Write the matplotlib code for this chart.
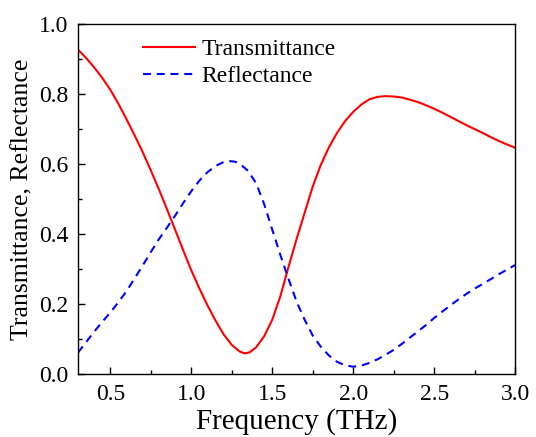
import numpy as np
import matplotlib
matplotlib.use("Agg")
import matplotlib.pyplot as plt
from matplotlib.ticker import MultipleLocator

# values
freq_t = [0.30, 0.35, 0.40, 0.45, 0.50, 0.55, 0.60, 0.65, 0.70, 0.75, 0.80, 0.85,
          0.90, 0.95, 1.00, 1.05, 1.10, 1.15, 1.20, 1.25, 1.30, 1.33, 1.36, 1.40,
          1.45, 1.50, 1.55, 1.60, 1.65, 1.70, 1.75, 1.80, 1.85, 1.90, 1.95, 2.00,
          2.05, 2.10, 2.15, 2.20, 2.25, 2.30, 2.35, 2.40, 2.45, 2.50, 2.55, 2.60,
          2.65, 2.70, 2.75, 2.80, 2.85, 2.90, 2.95, 3.00]
trans = [0.926, 0.902, 0.875, 0.845, 0.811, 0.771, 0.727, 0.681, 0.633, 0.581, 0.527, 0.470,
         0.412, 0.353, 0.296, 0.244, 0.196, 0.152, 0.113, 0.083, 0.064, 0.059, 0.062, 0.076,
         0.108, 0.155, 0.222, 0.305, 0.385, 0.460, 0.535, 0.597, 0.647, 0.688, 0.722, 0.748,
         0.769, 0.784, 0.791, 0.793, 0.792, 0.789, 0.783, 0.776, 0.767, 0.757, 0.746, 0.734,
         0.722, 0.710, 0.699, 0.688, 0.676, 0.665, 0.655, 0.646]

freq_r = [0.30, 0.35, 0.40, 0.45, 0.50, 0.55, 0.60, 0.65, 0.70, 0.75, 0.80, 0.85,
          0.90, 0.95, 1.00, 1.05, 1.10, 1.15, 1.20, 1.23, 1.27, 1.30, 1.35, 1.40,
          1.45, 1.50, 1.55, 1.60, 1.65, 1.70, 1.75, 1.80, 1.85, 1.90, 1.95, 2.00,
          2.05, 2.10, 2.15, 2.20, 2.25, 2.30, 2.35, 2.40, 2.45, 2.50, 2.55, 2.60,
          2.65, 2.70, 2.75, 2.80, 2.85, 2.90, 2.95, 3.00]
refl = [0.061, 0.091, 0.121, 0.149, 0.176, 0.205, 0.237, 0.273, 0.310, 0.348, 0.385, 0.418,
        0.452, 0.488, 0.522, 0.552, 0.576, 0.594, 0.605, 0.608, 0.606, 0.600, 0.580, 0.545,
        0.485, 0.412, 0.340, 0.272, 0.207, 0.155, 0.110, 0.078, 0.053, 0.035, 0.025, 0.021,
        0.024, 0.032, 0.042, 0.055, 0.069, 0.086, 0.104, 0.122, 0.140, 0.160, 0.178, 0.196,
        0.213, 0.229, 0.244, 0.257, 0.271, 0.285, 0.298, 0.311]

plt.rcParams['font.family'] = ['Liberation Serif', 'DejaVu Serif']

fig = plt.figure(figsize=(5.36, 4.37), dpi=100)
ax = fig.add_axes([0.1455, 0.144, 0.8155, 0.802])

ax.plot(freq_t, trans, color='red', lw=1.5, label='Transmittance')
ax.plot(freq_r, refl, color='blue', lw=1.5, ls=(0, (3.8, 2.8)), label='Reflectance')

ax.set_xlim(0.3, 3.0)
ax.set_ylim(0.0, 1.0)
ax.xaxis.set_major_locator(MultipleLocator(0.5))
ax.xaxis.set_minor_locator(MultipleLocator(0.25))
ax.yaxis.set_major_locator(MultipleLocator(0.2))
ax.yaxis.set_minor_locator(MultipleLocator(0.1))
ax.xaxis.set_major_formatter(plt.FormatStrFormatter('%.1f'))
ax.yaxis.set_major_formatter(plt.FormatStrFormatter('%.1f'))
ax.tick_params(which='both', direction='in', top=False, right=False, labelsize=17)
ax.tick_params(which='major', length=5, width=1, pad=7)
ax.tick_params(which='minor', length=3, width=1)
for s in ax.spines.values():
    s.set_linewidth(1)

ax.set_xlabel('Frequency (THz)', fontsize=21, labelpad=2)
ax.set_ylabel('Transmittance, Reflectance', fontsize=18.5, labelpad=4)

ax.legend(loc='upper left', bbox_to_anchor=(0.148, 0.957), frameon=False, fontsize=17,
          handlelength=2.2, handletextpad=0.28, labelspacing=0.22,
          borderpad=0, borderaxespad=0)

fig.savefig('out.png', dpi=100)
